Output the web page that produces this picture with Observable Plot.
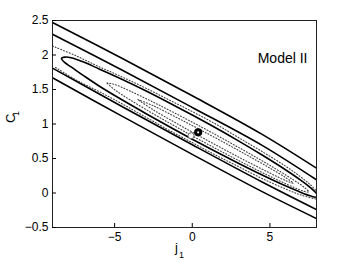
<!DOCTYPE html>
<html><head><meta charset="utf-8">
<script src="https://cdn.jsdelivr.net/npm/d3@7"></script>
<script src="https://cdn.jsdelivr.net/npm/@observablehq/plot@0.6"></script>
<style>body{margin:0;background:#fff;} svg{display:block;font-family:"Liberation Sans",Arial,sans-serif}</style>
</head><body><div id="chart"></div>
<script>
const xTicks = [-5, 0, 5];
const yTicks = [-0.5, 0, 0.5, 1, 1.5, 2, 2.5];
const yTickLabels = ["\u22120.5", "0", "0.5", "1", "1.5", "2", "2.5"];

// solid contour lines (open across the frame)
const solid1 = [[-9, 2.47], [-4.5, 1.95], [0, 1.41], [4.5, 0.85], [8, 0.36]];
const solid2 = [[-9, 2.30], [-4.5, 1.78], [0, 1.24], [4.5, 0.69], [8, 0.19]];
const solid3 = [[-9, 1.81], [-4.5, 1.25], [0, 0.70], [4.5, 0.16], [8, -0.24]];
const solid4 = [[-9, 1.67], [-4.5, 1.11], [0, 0.56], [4.5, 0.02], [8, -0.37]];
// inner closed solid contour (right tip clipped at the frame edge)
const solidInner = [
  [8.1, -0.05], [8, -0.007], [7.6, 0.079], [7, 0.183], [6, 0.337], [4.5, 0.550], [3, 0.752],
  [1.5, 0.945], [0, 1.130], [-1.5, 1.309], [-3, 1.482], [-4.5, 1.645], [-6, 1.798], [-7, 1.898],
  [-7.8, 1.960], [-8.2, 1.969], [-8.42, 1.95], [-8.2, 1.889], [-7.8, 1.827], [-7, 1.701],
  [-6, 1.551], [-4.5, 1.347], [-3, 1.153], [-1.5, 0.964], [0, 0.780], [1.5, 0.602], [3, 0.428],
  [4.5, 0.261], [6, 0.104], [7, 0.008], [7.6, -0.041], [8, -0.061], [8.1, -0.05]
];
// dotted contours
const dottedA = [
  [-9, 2.13], [-7.5, 1.99], [-6, 1.83], [-4.5, 1.68], [-3, 1.52], [-1.5, 1.35], [0, 1.18],
  [1.5, 1.0], [3, 0.80], [4.5, 0.60], [6, 0.39], [7, 0.23], [7.6, 0.12], [8, 0.03]
];
const dottedB = [
  [-8.8, 1.82], [-7.5, 1.64], [-6, 1.47], [-4.5, 1.29], [-3, 1.10], [-1.5, 0.91], [0, 0.73],
  [1.5, 0.55], [3, 0.38], [4.5, 0.21], [6, 0.06], [7, -0.03], [8, -0.09]
];
const dottedC = [
  [-5.5, 1.595], [-5, 1.574], [-4, 1.477], [-2.5, 1.315], [-1, 1.144], [0.5, 0.967], [2, 0.784],
  [3.5, 0.595], [5, 0.400], [6.5, 0.192], [7.2, 0.084], [7.5, 0.017], [7.2, 0.024], [6.5, 0.086],
  [5, 0.242], [3.5, 0.411], [2, 0.586], [0.5, 0.767], [-1, 0.954], [-2.5, 1.147], [-4, 1.349],
  [-5, 1.497], [-5.5, 1.595]
];
const dottedD = [
  [-3.5, 1.354], [-2.5, 1.263], [-1, 1.094], [0.5, 0.918], [2, 0.738], [3.5, 0.552], [5, 0.361],
  [6, 0.225], [6.5, 0.143], [6, 0.181], [5, 0.289], [3.5, 0.460], [2, 0.638], [0.5, 0.820],
  [-1, 1.008], [-2.5, 1.203], [-3.5, 1.354]
];
const bestFit = [[0.38, 0.88]];
const altFit = [[-0.08, 0.83]];

const toRows = (arr, id) => arr.map(([x, y]) => ({x, y, id}));
const solidRows = [
  ...toRows(solid1, "s1"), ...toRows(solid2, "s2"), ...toRows(solid3, "s3"),
  ...toRows(solid4, "s4"), ...toRows(solidInner, "si")
];
const dottedRows = [
  ...toRows(dottedA, "dA"), ...toRows(dottedB, "dB"), ...toRows(dottedC, "dC"), ...toRows(dottedD, "dD")
];

const fontFam = '"Liberation Sans", Arial, Helvetica, sans-serif';
const chart = Plot.plot({
  width: 349, height: 263,
  marginLeft: 52, marginRight: 33, marginTop: 20, marginBottom: 36,
  style: {fontFamily: fontFam, fontSize: "11.5px", background: "#fff", color: "#000"},
  x: {domain: [-9, 8]},
  y: {domain: [-0.5, 2.5]},
  marks: [
    Plot.line(dottedRows, {x: "x", y: "y", z: "id", curve: "catmull-rom", stroke: "#444", strokeWidth: 1.1, strokeDasharray: "1,2", clip: true}),
    Plot.line(solidRows, {x: "x", y: "y", z: "id", curve: "catmull-rom", stroke: "#000", strokeWidth: 1.6, clip: true}),
    Plot.dot(altFit, {x: d => d[0], y: d => d[1], r: 3, stroke: "#666", fill: "#fff", strokeWidth: 1}),
    Plot.dot(bestFit, {x: d => d[0], y: d => d[1], r: 2.6, stroke: "#000", fill: "#fff", strokeWidth: 3}),
    Plot.frame({stroke: "#222", strokeWidth: 1}),
    Plot.tickX(xTicks, {x: d => d, insetTop: 203, stroke: "#000"}),
    Plot.tickY(yTicks, {y: d => d, insetRight: 260, stroke: "#000"}),
    Plot.axisX({ticks: xTicks, tickSize: 0, tickPadding: 5, tickFormat: d => d < 0 ? "\u2212" + Math.abs(d) : String(d), label: null, fontSize: 12}),
    Plot.axisY({ticks: yTicks, tickSize: 0, tickPadding: 4, tickFormat: d => yTickLabels[yTicks.indexOf(d)], label: null, fontSize: 12}),
    Plot.text(["Model II"], {frameAnchor: "top-right", dx: -9, dy: 33, textAnchor: "end", fontSize: 14}),
    Plot.text(["j"], {frameAnchor: "bottom", dx: -8, dy: 24, fontSize: 13}),
    Plot.text(["1"], {frameAnchor: "bottom", dx: -3, dy: 30, fontSize: 9}),
    Plot.text(["C"], {frameAnchor: "left", dx: -42, dy: -1, rotate: -90, fontSize: 13}),
    Plot.text(["1"], {frameAnchor: "left", dx: -36, dy: -8, rotate: -90, fontSize: 9})
  ]
});
document.getElementById("chart").appendChild(chart);
</script>
</body></html>
